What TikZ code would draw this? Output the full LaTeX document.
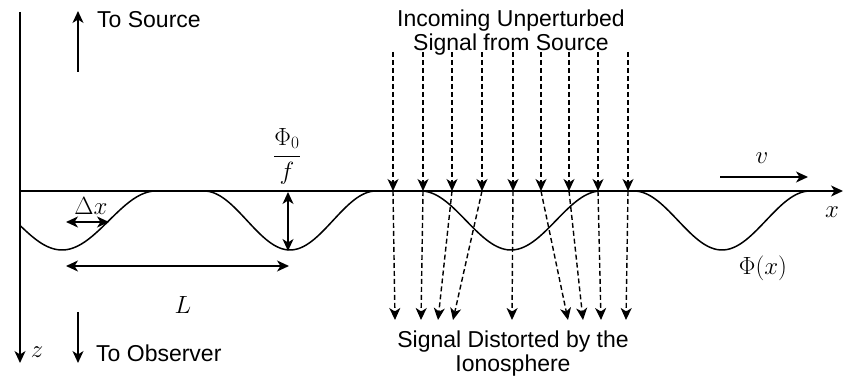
\documentclass[tikz,border=0pt]{standalone}
\usepackage{fontspec}
\setmainfont{Liberation Sans}
\usetikzlibrary{arrows.meta}
\begin{document}
\begin{tikzpicture}[x=1pt,y=-1pt,
  hd/.tip={Stealth[length=12pt,width=11pt,inset=3.5pt]},
  ln/.style={line width=1.5pt},
  arr/.style={ln,-hd},
  darr/.style={ln,hd-hd},
  dsh/.style={line width=1.4pt,dash pattern=on 5pt off 3pt,-hd},
  txt/.style={font=\fontsize{23}{27}\selectfont,inner sep=0pt,align=center},
  mth/.style={font=\fontsize{26}{30}\selectfont,inner sep=0pt}]
\useasboundingbox (0,0) rectangle (854,379);
% axes
\coordinate (ztop) at (20,12);
\coordinate (zbot) at (20,363);
\coordinate (xl) at (20,191);
\coordinate (xr) at (843,191);
\draw[arr] (ztop) -- (zbot);
\draw[arr] (xl) -- (xr);
\node[mth] (zlab) at (37,352) {$z$};
\node[mth] (xlab) at (832,212) {$x$};
% curve Phi(x)
\draw[ln] plot[domain=20:812,samples=300,smooth]
 (\x,{191
  + 29.5*(1+cos((\x-62)/94*180))*(abs(\x-62)<94)
  + 29.5*(1+cos((\x-290)/86*180))*(abs(\x-290)<86)
  + 29.5*(1+cos((\x-511)/90*180))*(abs(\x-511)<90)
  + 29.5*(1+cos((\x-722)/88*180))*(abs(\x-722)<88)});
\node[mth] (philab) at (763,268) {$\Phi(x)$};
% source / observer
\coordinate (s0) at (78,72);
\coordinate (s1) at (78,11);
\draw[arr] (s0) -- (s1);
\node[txt,anchor=west] (src) at (97,20) {To Source};
\coordinate (o0) at (78,312);
\coordinate (o1) at (78,363);
\draw[arr] (o0) -- (o1);
\node[txt,anchor=west] (obs) at (96,353) {To Observer};
% amplitude
\node[mth] (frac) at (287,156) {$\displaystyle\frac{\Phi_0}{f}$};
\coordinate (a0) at (288,192);
\coordinate (a1) at (288,251);
\draw[darr] (a0) -- (a1);
% Delta x
\node[mth] (dx) at (91,206) {$\Delta x$};
\coordinate (d0) at (66,222);
\coordinate (d1) at (109,222);
\draw[darr] (d0) -- (d1);
% L
\coordinate (l0) at (66,266);
\coordinate (l1) at (289,266);
\draw[darr] (l0) -- (l1);
\node[mth] (L) at (183,305) {$L$};
% v
\coordinate (v0) at (720,177);
\coordinate (v1) at (808,177);
\draw[arr] (v0) -- (v1);
\node[mth] (vlab) at (762,158) {$v$};
% signal rays
\foreach \t/\b [count=\i] in {393/395,423/421,452/438,482/453,513/512,541/568,569/583,598/601,628/626}{
  \coordinate (t\i) at (\t,52);
  \coordinate (m\i) at (\t,191);
  \coordinate (b\i) at (\b,320);
  \draw[dsh] (t\i) -- (m\i);
  \draw[dsh] (m\i) -- (b\i);
}
\node[txt] (inc) at (511,33) {Incoming Unperturbed\\[-3pt]Signal from Source};
\node[txt] (dist) at (513,354) {Signal Distorted by the\\[-3pt]Ionosphere};
\end{tikzpicture}
\end{document}
